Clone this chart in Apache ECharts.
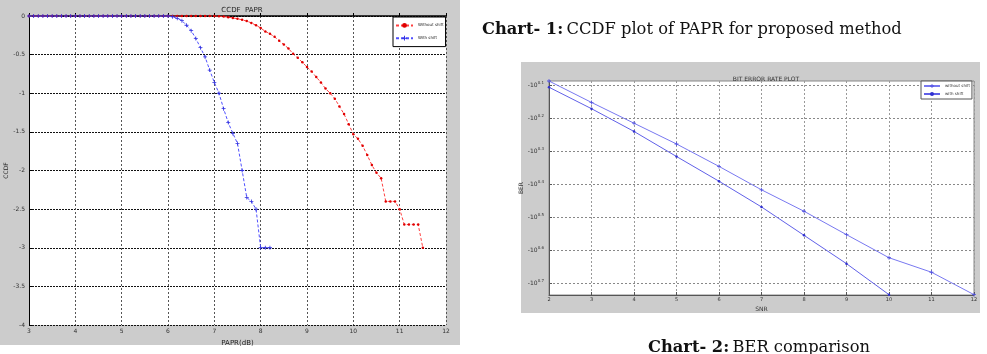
<!DOCTYPE html>
<html>
<head>
<meta charset="utf-8">
<script src="https://cdn.jsdelivr.net/npm/echarts@6/dist/echarts.min.js"></script>
<style>
html,body{margin:0;padding:0;background:#fff;}
#main{width:987px;height:354px;}
</style>
</head>
<body>
<div id="main"></div>
<script>
// Chart-1 : CCDF of PAPR
var paprRed = [3.0,3.1,3.2,3.3,3.4,3.5,3.6,3.7,3.8,3.9,4.0,4.1,4.2,4.3,4.4,4.5,4.6,4.7,4.8,4.9,
	5.0,5.1,5.2,5.3,5.4,5.5,5.6,5.7,5.8,5.9,6.0,6.1,6.2,6.3,6.4,6.5,6.6,6.7,6.8,6.9,
	7.0,7.1,7.2,7.3,7.4,7.5,7.6,7.7,7.8,7.9,8.0,8.1,8.2,8.3,8.4,8.5,8.6,8.7,8.8,8.9,
	9.0,9.1,9.2,9.3,9.4,9.5,9.6,9.7,9.8,9.9,10.0,10.1,10.2,10.3,10.4,10.5,10.6,10.7,10.8,10.9,
	11.0,11.1,11.2,11.3,11.4,11.5];
var ccdfRed = [0,0,0,0,0,0,0,0,0,0,0,0,0,0,0,0,0,0,0,0,
	0,0,0,0,0,0,0,0,0,0,0,0,0,0,0,0,0,0,0,0,
	0,-0.003,-0.008,-0.015,-0.025,-0.035,-0.05,-0.066,-0.09,-0.12,-0.155,-0.2,-0.23,-0.27,-0.32,-0.37,-0.42,-0.49,-0.54,-0.6,
	-0.66,-0.72,-0.79,-0.86,-0.94,-1.0,-1.07,-1.17,-1.27,-1.4,-1.53,-1.59,-1.68,-1.8,-1.93,-2.03,-2.1,-2.4,-2.4,-2.4,
	-2.5,-2.7,-2.7,-2.7,-2.7,-3.0];
var paprBlue = [3.0,3.1,3.2,3.3,3.4,3.5,3.6,3.7,3.8,3.9,4.0,4.1,4.2,4.3,4.4,4.5,4.6,4.7,4.8,4.9,
	5.0,5.1,5.2,5.3,5.4,5.5,5.6,5.7,5.8,5.9,6.0,6.1,6.2,6.3,6.4,6.5,6.6,6.7,6.8,6.9,
	7.0,7.1,7.2,7.3,7.4,7.5,7.6,7.7,7.8,7.9,8.0,8.1,8.2];
var ccdfBlue = [0,0,0,0,0,0,0,0,0,0,0,0,0,0,0,0,0,0,0,0,
	0,0,0,0,0,0,0,0,0,0,0,-0.01,-0.03,-0.06,-0.12,-0.19,-0.29,-0.41,-0.53,-0.7,
	-0.86,-1.0,-1.2,-1.38,-1.52,-1.65,-2.0,-2.35,-2.4,-2.5,-3.0,-3.0,-3.0];

// Chart-2 : BER (log10 of BER on the y axis)
var snr = [2,3,4,5,6,7,8,9,10,11,12];
var logBerWithout = [-0.086,-0.151,-0.214,-0.277,-0.345,-0.416,-0.481,-0.552,-0.622,-0.666,-0.734];
var logBerWith = [-0.105,-0.170,-0.239,-0.315,-0.390,-0.468,-0.554,-0.640,-0.734];
var berTicks = [-0.7,-0.6,-0.5,-0.4,-0.3,-0.2,-0.1];

function pairs(xs, ys){
	var out = [];
	for(var i=0;i<ys.length;i++){ out.push([xs[i], ys[i]]); }
	return out;
}

var plusSym = 'path://M4,0h2v4h4v2h-4v4h-2v-4h-4v-2h4z';
var fnt = 'DejaVu Sans';

var chart = echarts.init(document.getElementById('main'));
var option = {
	animation: false,
	textStyle: {fontFamily: fnt},
	title: [
		{text: 'CCDF  PAPR', left: 237, top: 2, textAlign: 'center',
			textStyle: {fontSize: 7, fontWeight: 'normal', color: '#222'}},
		{text: 'BIT ERROR RATE PLOT', left: 761, top: 71, textAlign: 'center',
			textStyle: {fontSize: 6, fontWeight: 'normal', color: '#333'}}
	],
	legend: [
		{data: ['Without shift','With shift'], orient: 'vertical', left: 393, top: 17,
			backgroundColor: '#fff', borderColor: '#000', borderWidth: 1, borderRadius: 0,
			padding: [6,2,6,2], itemGap: 8, itemWidth: 17, itemHeight: 6,
			textStyle: {fontSize: 4, color: '#222'}},
		{data: ['without shift','with shift'], orient: 'vertical', left: 921, top: 81,
			backgroundColor: '#fff', borderColor: '#555', borderWidth: 1, borderRadius: 0,
			padding: [3,2,3,2], itemGap: 4, itemWidth: 16, itemHeight: 5,
			textStyle: {fontSize: 4, color: '#333'}}
	],
	grid: [
		{left: 29, top: 16, width: 417, height: 309, show: true, backgroundColor: '#fff', borderWidth: 0},
		{left: 549, top: 81, width: 425, height: 214, show: true, backgroundColor: '#fff', borderColor: '#888', borderWidth: 1}
	],
	xAxis: [
		{gridIndex: 0, type: 'value', min: 3, max: 12, interval: 1,
			name: 'PAPR(dB)', nameLocation: 'middle', nameGap: 15, nameTextStyle: {fontSize: 7, color: '#222'},
			axisLine: {lineStyle: {color: '#000', width: 1.5}},
			axisTick: {inside: true, length: 3, lineStyle: {color: '#000'}},
			axisLabel: {fontSize: 6, color: '#333', margin: 3},
			splitLine: {lineStyle: {type: [2,2], color: '#555'}}},
		{gridIndex: 1, type: 'value', min: 2, max: 12, interval: 1,
			name: 'SNR', nameLocation: 'middle', nameGap: 10, nameTextStyle: {fontSize: 6, color: '#333'},
			axisLine: {lineStyle: {color: '#555', width: 1}},
			axisTick: {inside: true, length: 3, lineStyle: {color: '#555'}},
			axisLabel: {fontSize: 5, color: '#333', margin: 2},
			splitLine: {lineStyle: {type: [2,2], color: '#999'}}}
	],
	yAxis: [
		{gridIndex: 0, type: 'value', min: -4, max: 0, interval: 0.5,
			name: 'CCDF', nameLocation: 'middle', nameGap: 20, nameTextStyle: {fontSize: 6, color: '#222'},
			axisLine: {show: true, lineStyle: {color: '#000', width: 1}},
			axisTick: {show: true, inside: true, length: 3, lineStyle: {color: '#000'}},
			axisLabel: {fontSize: 6, color: '#333', margin: 4},
			splitLine: {lineStyle: {type: [2,1], color: '#111', width: 1}}},
		{gridIndex: 1, type: 'value', min: -0.735, max: -0.086,
			name: 'BER', nameLocation: 'middle', nameGap: 21, nameTextStyle: {fontSize: 6, color: '#333'},
			axisLine: {show: true, lineStyle: {color: '#555', width: 1}},
			axisTick: {show: true, inside: true, length: 3, customValues: berTicks, lineStyle: {color: '#555'}},
			axisLabel: {margin: 5, customValues: berTicks,
				formatter: function(v){ return '{m|-10}{s|' + (-v).toFixed(1) + '}'; },
				rich: {m: {fontSize: 6, color: '#333', lineHeight: 9}, s: {fontSize: 4, color: '#333', verticalAlign: 'top', lineHeight: 9}}},
			splitLine: {lineStyle: {type: [2,2], color: '#888'}}}
	],
	series: [
		{name: 'Without shift', type: 'line', xAxisIndex: 0, yAxisIndex: 0, data: pairs(paprRed, ccdfRed),
			symbol: 'circle', symbolSize: 2.5, showSymbol: true,
			itemStyle: {color: '#e00000'}, lineStyle: {color: '#ff4040', width: 1, type: [3,2]}},
		{name: 'With shift', type: 'line', xAxisIndex: 0, yAxisIndex: 0, data: pairs(paprBlue, ccdfBlue),
			symbol: plusSym, symbolSize: 4, showSymbol: true,
			itemStyle: {color: '#3030e0'}, lineStyle: {color: '#5050ff', width: 1, type: [3,2]}},
		{name: 'without shift', type: 'line', xAxisIndex: 1, yAxisIndex: 1, data: pairs(snr, logBerWithout),
			symbol: plusSym, symbolSize: 4,
			itemStyle: {color: '#5050e0'}, lineStyle: {color: '#7878f0', width: 1}},
		{name: 'with shift', type: 'line', xAxisIndex: 1, yAxisIndex: 1, data: pairs(snr, logBerWith),
			symbol: 'circle', symbolSize: 2.5,
			itemStyle: {color: '#3030d0'}, lineStyle: {color: '#6060e8', width: 1}}
	],
	graphic: [
		{type: 'rect', z: -10, shape: {x: 0, y: 0, width: 460, height: 345}, style: {fill: '#cccccc'}},
		{type: 'rect', z: -10, shape: {x: 521, y: 62, width: 459, height: 251}, style: {fill: '#cccccc'}},
		{type: 'text', left: 482, top: 22, style: {
			text: '{b|Chart- 1:} {n|CCDF plot of PAPR for proposed method}',
			rich: {b: {fontFamily: 'DejaVu Serif', fontWeight: 'bold', fontSize: 16.3, fill: '#111'},
				n: {fontFamily: 'DejaVu Serif', fontSize: 16.3, fill: '#111'}}}},
		{type: 'text', left: 648, top: 340, style: {
			text: '{b|Chart- 2:} {n|BER comparison}',
			rich: {b: {fontFamily: 'DejaVu Serif', fontWeight: 'bold', fontSize: 16.3, fill: '#111'},
				n: {fontFamily: 'DejaVu Serif', fontSize: 16.3, fill: '#111'}}}}
	]
};
chart.setOption(option);
</script>
</body>
</html>
